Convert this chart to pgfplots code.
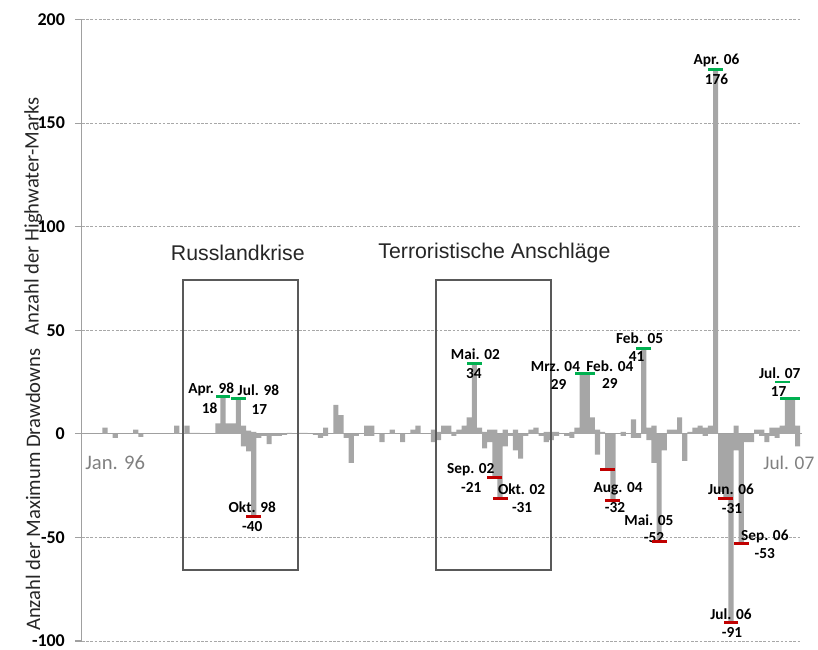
\documentclass[border=0pt]{standalone}
\usepackage{fontspec}
\setmainfont{Carlito}
\newfontfamily\arialf{Liberation Sans}
\usepackage{pgfplots}
\usepackage{pgfplotstable}
\pgfplotsset{compat=1.18}
\definecolor{barc}{HTML}{A6A6A6}
\definecolor{axc}{HTML}{A0A0A0}
\definecolor{gridc}{HTML}{A8A8A8}
\definecolor{mgreen}{HTML}{00B050}
\definecolor{mred}{HTML}{C00000}
\definecolor{boxc}{HTML}{595959}
\definecolor{txtc}{HTML}{262626}
\pgfplotstableread{
i p n
0 0 0
1 0 0
2 0 0
3 0 0
4 3 0
5 0 0
6 0 -2
7 0 0
8 0 0
9 0 0
10 2 0
11 0 -1.5
12 0 0
13 0 0
14 0 0
15 0 0
16 0 0
17 0 0
18 4 0
19 0 0
20 4 0
21 0.5 0
22 0.5 0
23 0 0
24 0 0
25 0 0
26 5 0
27 18 0
28 5 0
29 5 0
30 17 0
31 4 -6
32 1.5 -8.5
33 1 -40
34 0 -2
35 0 -1
36 0 -5
37 0 -1
38 0 -1
39 0 -0.5
40 0.5 0
41 0 0
42 0.5 0
43 0.5 0
44 0 0
45 0 -0.5
46 0 -2
47 3 -1
48 0 0
49 14 0
50 9 0
51 0 -2
52 0 -14
53 0 -1
54 0 0
55 4 -1
56 4 -1
57 0 0
58 0 -4
59 0 0
60 2 0
61 0 0
62 0 -4
63 0 0
64 2 0
65 4 0
66 0 0
67 0 0
68 2 -4
69 1 -3
70 4 0
71 4 0
72 1 -1
73 2 0
74 4 0
75 8 0
76 34 0
77 3 0
78 1 -7
79 2 -4
80 2 -21
81 0 -31
82 2 -6
83 0 -1
84 2 -8
85 0 -12
86 0 -1
87 2 0
88 3 0
89 0 -1
90 1 -4
91 1 -3
92 1 -1
93 0 0
94 0 -1
95 1 -2
96 3 0
97 29 0
98 29 0
99 8 0
100 2 -10
101 1 0
102 0 -17
103 0 -32
104 0 0
105 1 -1
106 0 0
107 7 -2
108 0 -2
109 41 0
110 3 -3
111 4 -14
112 0 -52
113 0 -8
114 2 0
115 2 0
116 8 0
117 0 -13
118 1 0
119 3 0
120 4 0
121 3 -1
122 4 0
123 176 0
124 0 -28
125 0 -31
126 0 -91
127 4 -8
128 0 -53
129 0 -4
130 0 -4
131 2 0
132 2 -1
133 0 -4
134 3 -1
135 3 -2
136 4 0
137 17 0
138 17 0
139 4 -6
}\data
\newcommand\lab{\fontsize{11.5}{13}\selectfont\bfseries}
\begin{document}
\begin{tikzpicture}[x=1pt,y=1pt]
\path[use as bounding box] (-61.5,-6) rectangle (552.95,481.5);
\begin{axis}[at={(0,0)}, anchor=south west, scale only axis,
  width=540.75pt, height=466.875pt,
  xmin=-0.5, xmax=139.8, ymin=-100, ymax=200,
  axis x line=none, axis y line*=left,
  y axis line style={draw=axc, line width=0.8pt, -},
  ytick={-100,-50,0,50,100,150,200},
  yticklabels={-100,-50,0,50,100,150,200},
  tick align=outside, major tick length=5.25pt,
  ytick style={draw=axc, line width=0.8pt},
  ymajorgrids, grid style={draw=gridc, dash pattern=on 2pt off 1.2pt, line width=0.6pt},
  yticklabel style={font=\fontsize{13.5}{15}\selectfont\bfseries, text=black, anchor=east, inner ysep=0pt, xshift=-4pt},
  clip=false,
]
\draw[axc, line width=0.8pt] (axis cs:-0.5,0) -- (axis cs:139.8,0);
\addplot[ybar, bar width=1, bar shift=0pt, fill=barc, draw=none] table[x=i, y=p] {\data};
\addplot[ybar, bar width=1, bar shift=0pt, fill=barc, draw=none] table[x=i, y=n] {\data};
% boxes
\draw[boxc, line width=1.5pt] (axis cs:19.2,74.2) rectangle (axis cs:41.6,-65.5);
\draw[boxc, line width=1.5pt] (axis cs:68.6,74.2) rectangle (axis cs:91,-65.5);
\node[font=\arialf\fontsize{16}{18}\selectfont, text=txtc] at (axis cs:29.9,87.2) {Russlandkrise};
\node[font=\arialf\fontsize{16}{18}\selectfont, text=txtc] at (axis cs:79.9,87.2) {Terroristische Anschläge};
% markers
\addplot[only marks, mark=-, mark size=5.6pt, mark options={draw=mgreen, line width=2.2pt}] coordinates {
(27,18) (30,17) (76,34) (97,29) (98,29) (109,41) (123,176) (136,25) (137,17) (138,17)};
\addplot[only marks, mark=-, mark size=5.6pt, mark options={draw=mred, line width=2.2pt}] coordinates {
(33,-40) (80,-21) (81,-31) (102,-17) (103,-32) (112,-52) (125,-31) (126,-91) (128,-53)};
% labels
\node[font=\lab] at (axis cs:24.7,21.2) {Apr. 98};
\node[font=\lab] at (axis cs:24.4,12.5) {18};
\node[font=\lab] at (axis cs:33.9,21.2) {Jul. 98};
\node[font=\lab] at (axis cs:34.1,11.6) {17};
\node[font=\lab] at (axis cs:32.7,-35.4) {Okt. 98};
\node[font=\lab] at (axis cs:32.7,-44.6) {-40};
\node[font=\lab] at (axis cs:76.2,38.3) {Mai. 02};
\node[font=\lab] at (axis cs:75.9,29.2) {34};
\node[font=\lab] at (axis cs:75.3,-17.1) {Sep. 02};
\node[font=\lab] at (axis cs:75.4,-25.8) {-21};
\node[font=\lab] at (axis cs:85.2,-26.7) {Okt. 02};
\node[font=\lab] at (axis cs:85.3,-35.4) {-31};
\node[font=\lab] at (axis cs:91.8,32.5) {Mrz. 04};
\node[font=\lab] at (axis cs:92.4,23.9) {29};
\node[font=\lab] at (axis cs:102.4,32.5) {Feb. 04};
\node[font=\lab] at (axis cs:102.4,24.3) {29};
\node[font=\lab] at (axis cs:104,-26.7) {Aug. 04};
\node[font=\lab] at (axis cs:103.4,-35.4) {-32};
\node[font=\lab] at (axis cs:108.2,46) {Feb. 05};
\node[font=\lab] at (axis cs:107.6,37.3) {41};
\node[font=\lab] at (axis cs:110,-41.5) {Mai. 05};
\node[font=\lab] at (axis cs:111,-50.2) {-52};
\node[font=\lab] at (axis cs:123.2,180) {Apr. 06};
\node[font=\lab] at (axis cs:123.2,171.3) {176};
\node[font=\lab] at (axis cs:126,-26.7) {Jun. 06};
\node[font=\lab] at (axis cs:126.2,-36) {-31};
\node[font=\lab] at (axis cs:126,-87) {Jul. 06};
\node[font=\lab] at (axis cs:126.2,-95.7) {-91};
\node[font=\lab] at (axis cs:132.6,-49.4) {Sep. 06};
\node[font=\lab] at (axis cs:132.6,-58) {-53};
\node[font=\lab] at (axis cs:135.5,29.4) {Jul. 07};
\node[font=\lab] at (axis cs:135.3,20.2) {17};
% axis end labels
\node[font=\fontsize{15.5}{17}\selectfont, text=gray] at (axis cs:6,-14) {Jan. 96};
\node[font=\fontsize{14.5}{17}\selectfont, text=gray, anchor=east, inner sep=0pt] at (axis cs:142.3,-14) {Jul. 07};
% y labels
\node[font=\fontsize{15.5}{17}\selectfont, text=txtc, rotate=90] at (axis cs:-10,105) {Anzahl der Highwater-Marks};
\node[font=\fontsize{15.5}{17}\selectfont, text=txtc, rotate=90] at (axis cs:-10,-27) {Anzahl der Maximum Drawdowns};
\end{axis}
\end{tikzpicture}
\end{document}
